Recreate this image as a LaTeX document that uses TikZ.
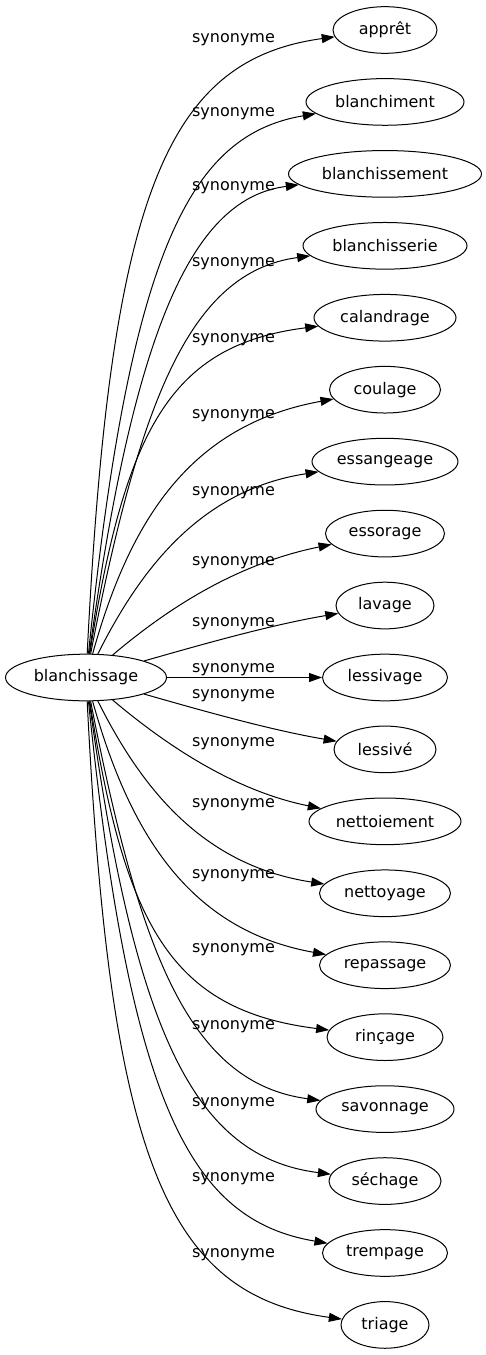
\documentclass[tikz,border=0pt]{standalone}
\usepackage{fontspec}
\setmainfont{DejaVu Sans}
\usetikzlibrary{shapes.geometric,arrows.meta}
\begin{document}
\begin{tikzpicture}[x=0.75pt,y=-0.75pt,
  every node/.style={font=\fontsize{12}{14}\selectfont},
  nd/.style={ellipse,draw,line width=0.75pt,inner sep=0pt,minimum height=35pt},
  lbl/.style={anchor=base,inner sep=0pt},
  edge/.style={draw,line width=0.75pt,-{Triangle[length=9.75pt,width=6.75pt]}}]
\useasboundingbox (0,0) rectangle (485,1355);
\node[nd,minimum width=120.75pt] (src) at (86,677.5) {blanchissage};
\node[nd,minimum width=78pt] (t0) at (385,30) {apprêt};
\node[nd,minimum width=118.5pt] (t1) at (385,101.94) {blanchiment};
\node[nd,minimum width=144.75pt] (t2) at (385,173.88) {blanchissement};
\node[nd,minimum width=123pt] (t3) at (385,245.82) {blanchisserie};
\node[nd,minimum width=106.5pt] (t4) at (385,317.76) {calandrage};
\node[nd,minimum width=83.25pt] (t5) at (385,389.7) {coulage};
\node[nd,minimum width=109.5pt] (t6) at (385,461.64) {essangeage};
\node[nd,minimum width=89.25pt] (t7) at (385,533.58) {essorage};
\node[nd,minimum width=73.5pt] (t8) at (385,605.52) {lavage};
\node[nd,minimum width=93.75pt] (t9) at (385,677.5) {lessivage};
\node[nd,minimum width=76.5pt] (t10) at (385,749.4) {lessivé};
\node[nd,minimum width=114pt] (t11) at (385,821.34) {nettoiement};
\node[nd,minimum width=98.25pt] (t12) at (385,893.28) {nettoyage};
\node[nd,minimum width=98.25pt] (t13) at (385,965.22) {repassage};
\node[nd,minimum width=87pt] (t14) at (385,1037.16) {rinçage};
\node[nd,minimum width=103.5pt] (t15) at (385,1109.1) {savonnage};
\node[nd,minimum width=84pt] (t16) at (385,1181.04) {séchage};
\node[nd,minimum width=93.75pt] (t17) at (385,1252.98) {trempage};
\node[nd,minimum width=66pt] (t18) at (385,1324.92) {triage};
\draw[edge] (src) .. controls (110,198) and (165,60) .. (t0);
\draw[edge] (src) .. controls (130,250) and (190,135) .. (t1);
\draw[edge] (src) .. controls (135,320) and (195,198) .. (t2);
\draw[edge] (src) .. controls (140,400) and (190,272) .. (t3);
\draw[edge] (src) .. controls (125,430) and (170,345) .. (t4);
\draw[edge] (src) .. controls (130,520) and (190,425) .. (t5);
\draw[edge] (src) .. controls (140,570) and (200,490) .. (t6);
\draw[edge] (src) .. controls (160,615) and (230,565) .. (t7);
\draw[edge] (src) .. controls (200,645) and (270,625) .. (t8);
\draw[edge] (src) -- (t9);
\draw[edge] (src) .. controls (200,710) and (270,730) .. (t10);
\draw[edge] (src) .. controls (160,740) and (230,790) .. (t11);
\draw[edge] (src) .. controls (140,785) and (200,865) .. (t12);
\draw[edge] (src) .. controls (130,835) and (190,930) .. (t13);
\draw[edge] (src) .. controls (125,925) and (170,1010) .. (t14);
\draw[edge] (src) .. controls (140,955) and (190,1083) .. (t15);
\draw[edge] (src) .. controls (135,1035) and (195,1157) .. (t16);
\draw[edge] (src) .. controls (130,1105) and (190,1220) .. (t17);
\draw[edge] (src) .. controls (110,1157) and (165,1295) .. (t18);
\node[lbl] (l0) at (233.5,43) {synonyme};
\node[lbl] (l1) at (233.5,117) {synonyme};
\node[lbl] (l2) at (233.5,191) {synonyme};
\node[lbl] (l3) at (233.5,267) {synonyme};
\node[lbl] (l4) at (233.5,342) {synonyme};
\node[lbl] (l5) at (233.5,418) {synonyme};
\node[lbl] (l6) at (233.5,495) {synonyme};
\node[lbl] (l7) at (233.5,565) {synonyme};
\node[lbl] (l8) at (233.5,626) {synonyme};
\node[lbl] (l9) at (233.5,672.5) {synonyme};
\node[lbl] (l10) at (233.5,698) {synonyme};
\node[lbl] (l11) at (233.5,746) {synonyme};
\node[lbl] (l12) at (233.5,807) {synonyme};
\node[lbl] (l13) at (233.5,878) {synonyme};
\node[lbl] (l14) at (233.5,952) {synonyme};
\node[lbl] (l15) at (233.5,1029) {synonyme};
\node[lbl] (l16) at (233.5,1106) {synonyme};
\node[lbl] (l17) at (233.5,1181) {synonyme};
\node[lbl] (l18) at (233.5,1257) {synonyme};
\end{tikzpicture}
\end{document}
